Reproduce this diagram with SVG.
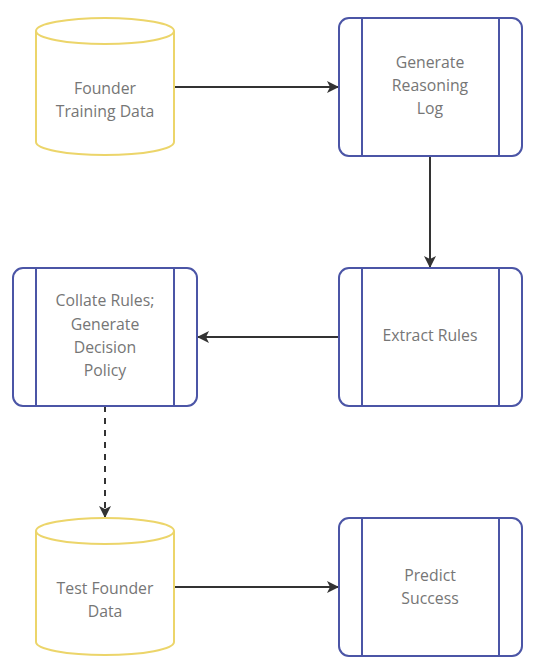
<svg xmlns="http://www.w3.org/2000/svg" width="541" height="660" viewBox="0 0 541 660">
<defs>
<style>
.cyl{fill:#fff;stroke:#ecd56a;stroke-width:2}
.proc{fill:#fff;stroke:#4b55a6;stroke-width:2}
.t{font-family:"Open Sans","Liberation Sans",sans-serif;font-size:15.8px;fill:#767676;text-anchor:middle;dominant-baseline:middle}
.c{stroke:#333;stroke-width:2;fill:none}
</style>
<marker id="ah" viewBox="0 0 12 12" refX="11" refY="6" markerWidth="12" markerHeight="12" markerUnits="userSpaceOnUse" orient="auto">
<path d="M0,0 L12,6 L0,12 L3,6 Z" fill="#333"/>
</marker>
</defs>
<rect width="541" height="660" fill="#fff"/>
<g id="connectors">
<line class="c" x1="174" y1="87" x2="338" y2="87" marker-end="url(#ah)"/>
<line class="c" x1="430" y1="156" x2="430" y2="267" marker-end="url(#ah)"/>
<line class="c" x1="339" y1="337" x2="198" y2="337" marker-end="url(#ah)"/>
<line class="c" x1="105" y1="406" x2="105" y2="517" stroke-dasharray="6,6" marker-end="url(#ah)"/>
<line class="c" x1="174" y1="587" x2="338" y2="587" marker-end="url(#ah)"/>
</g>
<g id="founder-training-data">
<path class="cyl" d="M36,31 A69,13 0 0 1 174,31 L174,142 A69,13 0 0 1 36,142 Z"/>
<path class="cyl" d="M36,31 A69,13 0 0 0 174,31" fill="none"/>
<text class="t" x="105" y="90">Founder</text>
<text class="t" x="105" y="113">Training Data</text>
</g>
<g id="generate-reasoning-log">
<rect class="proc" x="339" y="18" width="183" height="138" rx="10"/>
<line class="proc" x1="362" y1="18" x2="362" y2="156"/>
<line class="proc" x1="499" y1="18" x2="499" y2="156"/>
<text class="t" x="430" y="64">Generate</text>
<text class="t" x="430" y="87">Reasoning</text>
<text class="t" x="430" y="110">Log</text>
</g>
<g id="extract-rules">
<rect class="proc" x="339" y="268" width="183" height="138" rx="10"/>
<line class="proc" x1="362" y1="268" x2="362" y2="406"/>
<line class="proc" x1="499" y1="268" x2="499" y2="406"/>
<text class="t" x="430" y="337">Extract Rules</text>
</g>
<g id="collate-rules">
<rect class="proc" x="13" y="268" width="184" height="138" rx="10"/>
<line class="proc" x1="36" y1="268" x2="36" y2="406"/>
<line class="proc" x1="174" y1="268" x2="174" y2="406"/>
<text class="t" x="105" y="302">Collate Rules;</text>
<text class="t" x="105" y="326">Generate</text>
<text class="t" x="105" y="349">Decision</text>
<text class="t" x="105" y="372">Policy</text>
</g>
<g id="test-founder-data">
<path class="cyl" d="M36,531 A69,13 0 0 1 174,531 L174,642 A69,13 0 0 1 36,642 Z"/>
<path class="cyl" d="M36,531 A69,13 0 0 0 174,531" fill="none"/>
<text class="t" x="105" y="590">Test Founder</text>
<text class="t" x="105" y="613">Data</text>
</g>
<g id="predict-success">
<rect class="proc" x="339" y="518" width="183" height="138" rx="10"/>
<line class="proc" x1="362" y1="518" x2="362" y2="656"/>
<line class="proc" x1="499" y1="518" x2="499" y2="656"/>
<text class="t" x="430" y="577">Predict</text>
<text class="t" x="430" y="600">Success</text>
</g>
</svg>
